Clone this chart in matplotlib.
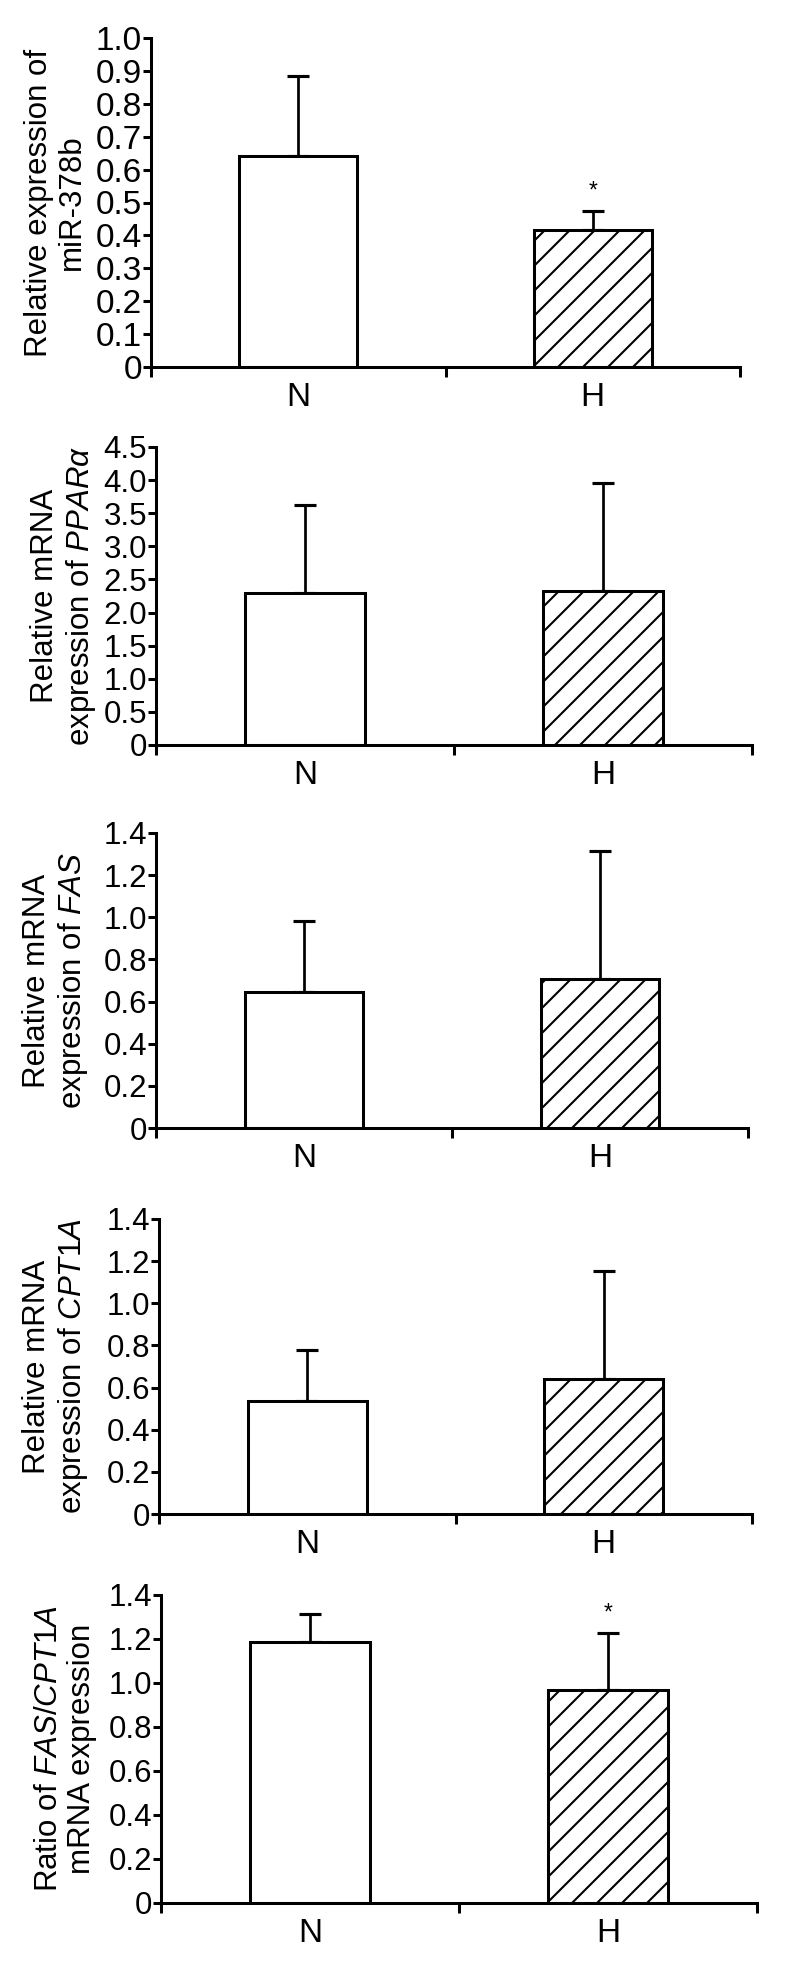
import numpy as np
import matplotlib
matplotlib.use('Agg')
import matplotlib.pyplot as plt

plt.rcParams['font.family'] = ['Liberation Sans', 'DejaVu Sans']
plt.rcParams['mathtext.fontset'] = 'custom'
plt.rcParams['mathtext.rm'] = 'Liberation Sans'
plt.rcParams['mathtext.it'] = 'Liberation Sans:italic'
plt.rcParams['hatch.linewidth'] = 1.0

# data
groups = ['N', 'H']
mir_mean = [0.64, 0.415]
mir_sd = [0.245, 0.06]
ppar_mean = [2.30, 2.33]
ppar_sd = [1.32, 1.62]
fas_mean = [0.645, 0.707]
fas_sd = [0.338, 0.606]
cpt_mean = [0.536, 0.641]
cpt_sd = [0.242, 0.514]
ratio_mean = [1.188, 0.967]
ratio_sd = [0.124, 0.259]

mir_ticks = [0, 0.1, 0.2, 0.3, 0.4, 0.5, 0.6, 0.7, 0.8, 0.9, 1.0]
mir_ticklabels = ['0', '0.1', '0.2', '0.3', '0.4', '0.5', '0.6', '0.7', '0.8', '0.9', '1.0']
ppar_ticks = [0, 0.5, 1.0, 1.5, 2.0, 2.5, 3.0, 3.5, 4.0, 4.5]
ppar_ticklabels = ['0', '0.5', '1.0', '1.5', '2.0', '2.5', '3.0', '3.5', '4.0', '4.5']
fine_ticks = [0, 0.2, 0.4, 0.6, 0.8, 1.0, 1.2, 1.4]
fine_ticklabels = ['0', '0.2', '0.4', '0.6', '0.8', '1.0', '1.2', '1.4']

labels = ['Relative expression of\nmiR-378b',
          'Relative mRNA\nexpression of $\\mathit{PPAR\\alpha}$',
          'Relative mRNA\nexpression of $\\mathit{FAS}$',
          'Relative mRNA\nexpression of $\\mathit{CPT1A}$',
          'Ratio of $\\mathit{FAS/CPT1A}$\nmRNA expression']
means = [mir_mean, ppar_mean, fas_mean, cpt_mean, ratio_mean]
sds = [mir_sd, ppar_sd, fas_sd, cpt_sd, ratio_sd]
ticks = [(mir_ticks, mir_ticklabels), (ppar_ticks, ppar_ticklabels),
         (fine_ticks, fine_ticklabels), (fine_ticks, fine_ticklabels),
         (fine_ticks, fine_ticklabels)]
stars = [True, False, False, False, True]

# panel boxes in pixels: left, right, top, bottom ; label right edge
W, H = 786, 1971
boxes = [(151, 740, 38, 367, 87),
         (156, 752, 447, 745, 98),
         (156, 748, 833, 1128, 90),
         (159, 752, 1219, 1514, 90),
         (161, 757, 1595, 1903, 97)]
tick_sizes = [16, 15, 15, 15, 15]

narrow = ['Liberation Sans Narrow', 'Liberation Sans']

DPI = 150
fig = plt.figure(figsize=(W / DPI, H / DPI), dpi=DPI)
lw = 1.45

for i in range(5):
    l, r, t, b, lab = boxes[i]
    ax = fig.add_axes([l / W, 1 - b / H, (r - l) / W, (b - t) / H])
    x = np.array([0.5, 1.5])
    m = means[i]
    s = sds[i]
    ax.errorbar(x, m, yerr=[np.zeros(2), s], fmt='none', ecolor='black',
                elinewidth=1.3, capsize=5.5, capthick=1.5, zorder=1)
    ax.bar(x[0], m[0], width=0.40, color='white', edgecolor='black', linewidth=lw, zorder=2)
    ax.bar(x[1], m[1], width=0.40, color='white', edgecolor='black', linewidth=lw,
           hatch='//', zorder=2)
    if stars[i]:
        ax.annotate('*', (x[1], m[1] + s[1]), xytext=(0, 4), textcoords='offset points',
                    ha='center', va='bottom', fontsize=11)
    yt, ytl = ticks[i]
    ax.set_xlim(0, 2)
    ax.set_ylim(0, yt[-1])
    ax.set_yticks(yt)
    ax.set_yticklabels(ytl, family=narrow, fontsize=tick_sizes[i])
    ax.set_xticks([0, 1, 2])
    ax.set_xticklabels(['', '', ''])
    ax.set_xticks(x, minor=True)
    ax.set_xticklabels(groups, minor=True, family=narrow, fontsize=16)
    ax.tick_params(axis='x', which='major', direction='out', length=4.8, width=lw)
    ax.tick_params(axis='x', which='minor', length=0, pad=7)
    ax.tick_params(axis='y', direction='out', length=3.8, width=lw, pad=0.5)
    for side in ['top', 'right']:
        ax.spines[side].set_visible(False)
    for side in ['left', 'bottom']:
        ax.spines[side].set_linewidth(lw)
    ax.set_ylabel(labels[i], fontsize=15, linespacing=1.15)
    ax.yaxis.set_label_coords((lab - l) / (r - l), 0.5)

fig.savefig('out.png', dpi=DPI)
